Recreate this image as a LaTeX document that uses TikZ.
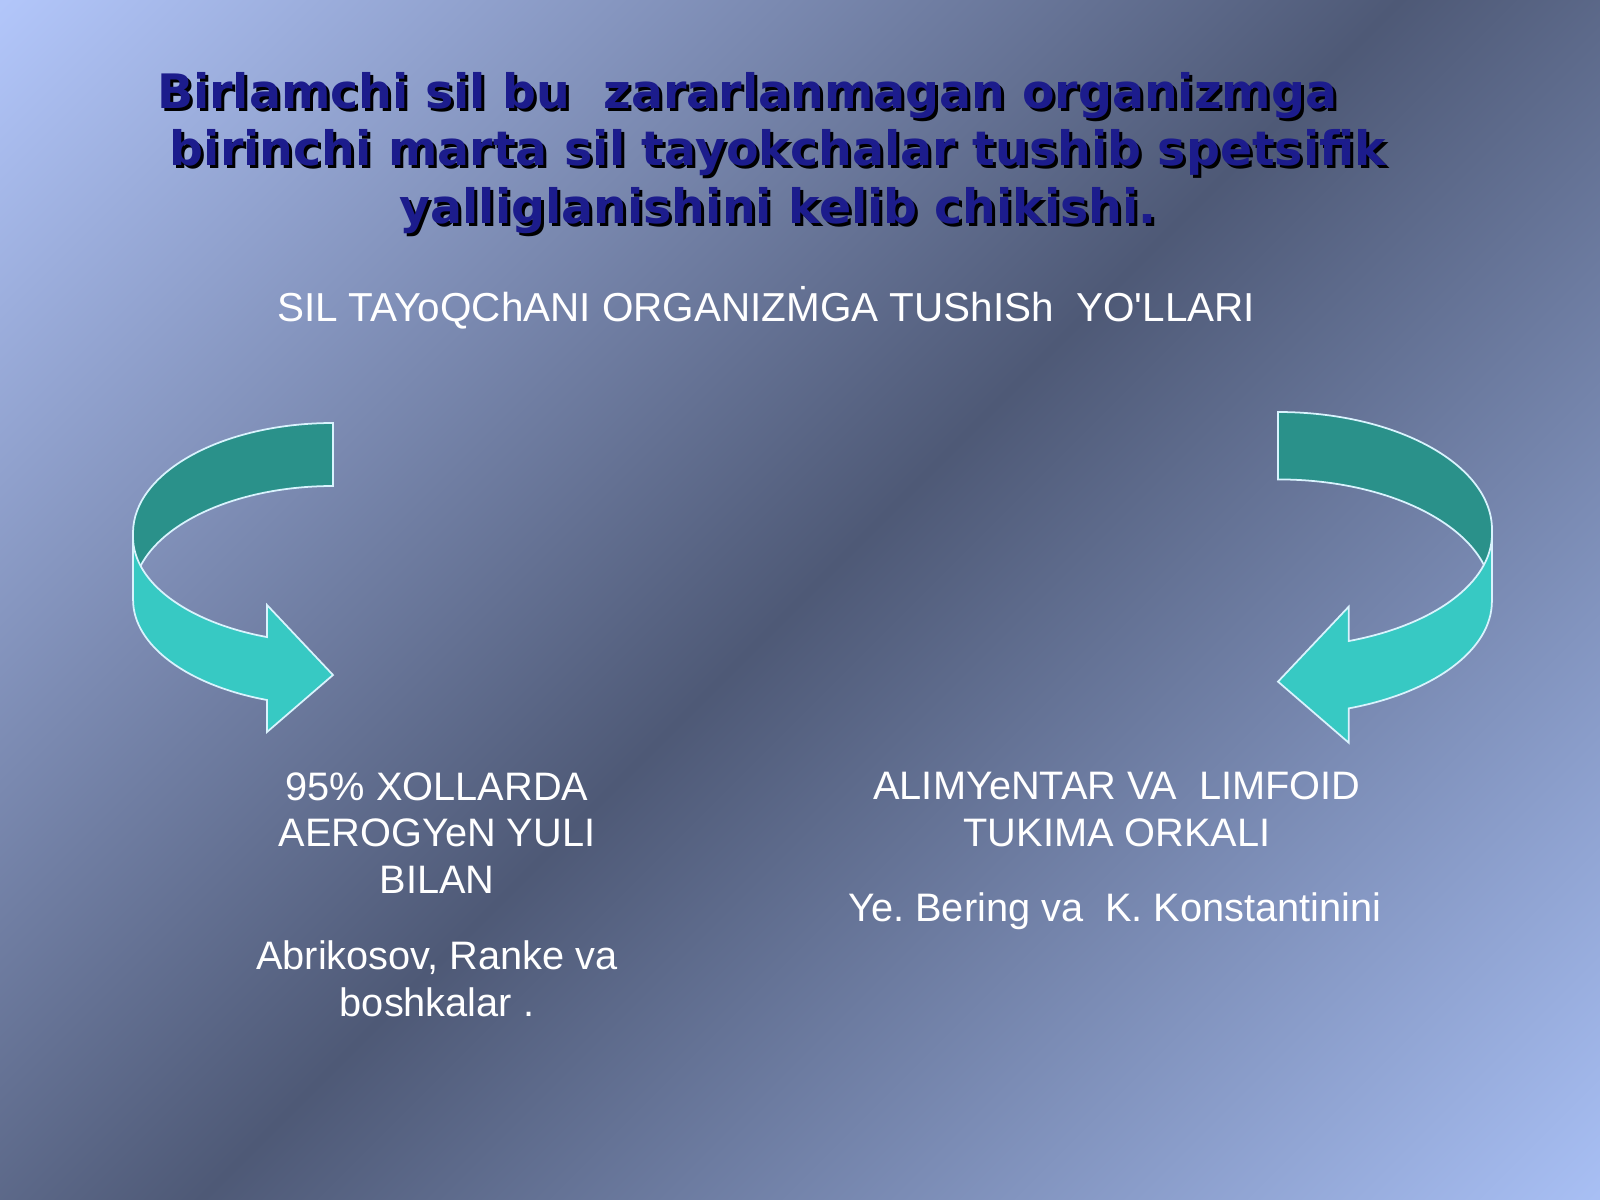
\documentclass[tikz,border=0pt]{standalone}
\usepackage{fontspec}
\setmainfont{Liberation Sans}
\newfontfamily\titlefont{DejaVu Sans}

\definecolor{bglight}{HTML}{B2C6FA}
\definecolor{bglightlow}{HTML}{A8BFF4}
\definecolor{bgdark}{HTML}{4E5976}
\definecolor{titleblue}{HTML}{1C1C8C}
\definecolor{tealback}{HTML}{2A918A}
\definecolor{tealfront}{HTML}{37C9C3}

\pgfdeclareverticalshading{slidebg}{100bp}{color(0bp)=(bglightlow); color(19bp)=(bglightlow);
  color(50bp)=(bgdark); color(81bp)=(bglight); color(100bp)=(bglight)}

\tikzset{
  bodytext/.style={text=white, font=\fontsize{11.3}{13.3}\selectfont, align=center},
  titletext/.style={font=\titlefont\bfseries\fontsize{13.5}{16.4}\selectfont, align=center},
  ribbon/.style={draw=white!85!cyan, line width=0.5pt, line join=miter},
}

\begin{document}
\frenchspacing
\begin{tikzpicture}[x=0.01cm, y=-0.01cm]
    \useasboundingbox (0,0) rectangle (1600,1200);

    % background, light corners and a dark diagonal
    \begin{scope}
        \clip (0,0) rectangle (1600,1200);
        \shade[shading=slidebg, shading angle=45] (0,-200) rectangle (1600,1400);
    \end{scope}

    % title with its shadow
    \node[titletext, text=black] (titleshadow) at (781,156) {Birlamchi sil bu\ \ zararlanmagan organizmga\hspace*{1.3em}\\birinchi marta sil tayokchalar tushib spetsifik\\yalliglanishini kelib chikishi.};
    \node[titletext, text=titleblue] (title) at (778,153) {Birlamchi sil bu\ \ zararlanmagan organizmga\hspace*{1.3em}\\birinchi marta sil tayokchalar tushib spetsifik\\yalliglanishini kelib chikishi.};

    \node[bodytext, font=\fontsize{11.5}{13.3}\selectfont] (routes) at (766,308) {SIL TAYoQChANI ORGANIZ\.MGA TUShISh\ \ YO\textquotesingle LLARI};

    % the two curved arrows, the right one mirrored
    \foreach \sx/\sc/\px/\py in {1/1/333/423, -1.07/1.07/1278/412}
    {
    \begin{scope}[shift={(\px,\py)}, xscale=\sx, yscale=\sc]
        \filldraw[ribbon, fill=tealback] (0,0) arc[start angle=270, end angle=180, x radius=200, y radius=110]
            -- (-200,173) arc[start angle=180, end angle=270, x radius=200, y radius=110] -- cycle;
        \filldraw[ribbon, fill=tealfront] (-200,114) arc[start angle=180, end angle=109.3, x radius=200, y radius=106]
            -- (-66,182) -- (0,252) -- (-66,309) -- (-66,277)
            arc[start angle=109.3, end angle=180, x radius=200, y radius=106] -- cycle;
    \end{scope}
    }

    \node[bodytext] (aero) at (437,833) {95\% XOLLARDA\\AEROGYeN YULI\\BILAN};
    \node[bodytext] (aeroauthors) at (437,979) {Abrikosov, Ranke va\\boshkalar .};
    \node[bodytext] (alim) at (1117,809) {ALIMYeNTAR VA\ \ LIMFOID\\TUKIMA ORKALI};
    \node[bodytext] (alimauthors) at (1115,911) {Ye. Bering va\ \ K. Konstantinini};
\end{tikzpicture}
\end{document}
